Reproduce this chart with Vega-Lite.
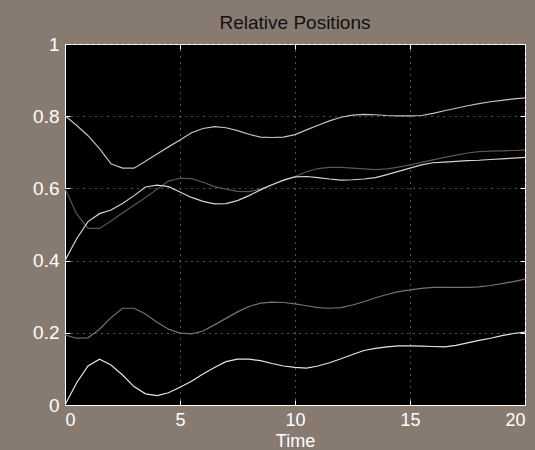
{
  "$schema": "https://vega.github.io/schema/vega-lite/v6.json",
  "autosize": {"type": "none"},
  "width": 460,
  "height": 361,
  "padding": {"left": 65, "top": 44, "right": 10, "bottom": 45},
  "background": "#877b71",
  "title": {"text": "Relative Positions", "font": "Liberation Sans", "fontSize": 19, "fontWeight": "normal", "color": "#111111", "anchor": "middle", "offset": 2},
  "config": {
    "view": {"fill": "#000000", "stroke": "#ffffff", "strokeWidth": 1},
    "axis": {"labelColor": "#ffffff", "labelFont": "Liberation Sans", "labelFontSize": 19, "domainColor": "#ffffff", "tickColor": "#ffffff", "gridColor": "#a0a0a0", "gridDash": [1, 5], "gridOpacity": 1, "titleColor": "#ffffff", "titleFont": "Liberation Sans", "titleFontSize": 18, "titleFontWeight": "normal"}
  },
  "datasets": {
    "pos": [
      {"t":0,"A":0,"B":0.194,"C":0.801,"D":0.600,"E":0.40},
      {"t":0.5,"A":0.061,"B":0.185,"C":0.775,"D":0.530,"E":0.46},
      {"t":1,"A":0.108,"B":0.186,"C":0.746,"D":0.489,"E":0.508},
      {"t":1.5,"A":0.127,"B":0.21,"C":0.71,"D":0.489,"E":0.53},
      {"t":2,"A":0.111,"B":0.242,"C":0.668,"D":0.51,"E":0.54},
      {"t":2.5,"A":0.083,"B":0.268,"C":0.656,"D":0.532,"E":0.558},
      {"t":3,"A":0.051,"B":0.268,"C":0.656,"D":0.553,"E":0.58},
      {"t":3.5,"A":0.031,"B":0.252,"C":0.675,"D":0.575,"E":0.604},
      {"t":4,"A":0.026,"B":0.229,"C":0.695,"D":0.598,"E":0.609},
      {"t":4.5,"A":0.034,"B":0.21,"C":0.715,"D":0.62,"E":0.605},
      {"t":5,"A":0.049,"B":0.199,"C":0.734,"D":0.628,"E":0.59},
      {"t":5.5,"A":0.066,"B":0.197,"C":0.754,"D":0.627,"E":0.575},
      {"t":6,"A":0.086,"B":0.205,"C":0.766,"D":0.617,"E":0.564},
      {"t":6.5,"A":0.104,"B":0.222,"C":0.771,"D":0.605,"E":0.557},
      {"t":7,"A":0.12,"B":0.24,"C":0.768,"D":0.598,"E":0.558},
      {"t":7.5,"A":0.127,"B":0.258,"C":0.76,"D":0.592,"E":0.566},
      {"t":8,"A":0.127,"B":0.273,"C":0.75,"D":0.591,"E":0.58},
      {"t":8.5,"A":0.123,"B":0.282,"C":0.742,"D":0.598,"E":0.596},
      {"t":9,"A":0.115,"B":0.285,"C":0.741,"D":0.61,"E":0.61},
      {"t":9.5,"A":0.108,"B":0.284,"C":0.742,"D":0.622,"E":0.623},
      {"t":10,"A":0.104,"B":0.28,"C":0.749,"D":0.633,"E":0.632},
      {"t":10.5,"A":0.102,"B":0.275,"C":0.762,"D":0.646,"E":0.633},
      {"t":11,"A":0.108,"B":0.27,"C":0.775,"D":0.655,"E":0.63},
      {"t":11.5,"A":0.117,"B":0.268,"C":0.787,"D":0.658,"E":0.626},
      {"t":12,"A":0.128,"B":0.27,"C":0.797,"D":0.658,"E":0.623},
      {"t":12.5,"A":0.14,"B":0.277,"C":0.803,"D":0.656,"E":0.624},
      {"t":13,"A":0.151,"B":0.286,"C":0.805,"D":0.654,"E":0.626},
      {"t":13.5,"A":0.157,"B":0.297,"C":0.804,"D":0.652,"E":0.63},
      {"t":14,"A":0.161,"B":0.306,"C":0.802,"D":0.654,"E":0.638},
      {"t":14.5,"A":0.164,"B":0.314,"C":0.801,"D":0.659,"E":0.647},
      {"t":15,"A":0.164,"B":0.319,"C":0.801,"D":0.665,"E":0.656},
      {"t":15.5,"A":0.163,"B":0.323,"C":0.802,"D":0.672,"E":0.665},
      {"t":16,"A":0.162,"B":0.326,"C":0.808,"D":0.679,"E":0.671},
      {"t":16.5,"A":0.161,"B":0.326,"C":0.815,"D":0.686,"E":0.673},
      {"t":17,"A":0.165,"B":0.326,"C":0.822,"D":0.692,"E":0.675},
      {"t":17.5,"A":0.172,"B":0.326,"C":0.829,"D":0.698,"E":0.677},
      {"t":18,"A":0.179,"B":0.327,"C":0.835,"D":0.702,"E":0.678},
      {"t":18.5,"A":0.185,"B":0.331,"C":0.84,"D":0.703,"E":0.68},
      {"t":19,"A":0.192,"B":0.336,"C":0.844,"D":0.704,"E":0.682},
      {"t":19.5,"A":0.198,"B":0.342,"C":0.848,"D":0.705,"E":0.684},
      {"t":20,"A":0.202,"B":0.349,"C":0.851,"D":0.706,"E":0.686}
    ]
  },
  "data": {"name": "pos"},
  "transform": [{"fold": ["B", "D", "C", "E", "A"], "as": ["s", "v"]}],
  "layer": [
    {
      "mark": {"type": "line", "strokeWidth": 1.2, "clip": true},
      "encoding": {
        "x": {"field": "t", "type": "quantitative", "scale": {"domain": [0, 20], "nice": false}, "axis": {"title": "Time", "values": [0, 5, 10, 15, 20], "tickSize": -5, "labelFontSize": 18, "labelPadding": 11, "titlePadding": 3, "grid": true}},
        "y": {"field": "v", "type": "quantitative", "scale": {"domain": [0, 1], "nice": false}, "axis": {"title": null, "values": [0, 0.2, 0.4, 0.6, 0.8, 1], "format": "~g", "tickSize": -5, "labelPadding": 11, "grid": true}},
        "color": {"field": "s", "type": "nominal", "legend": null, "scale": {"domain": ["A", "B", "C", "D", "E"], "range": ["#eae3dc", "#7d7165", "#cdc1b4", "#5e564e", "#ddd2c6"]}},
        "detail": {"field": "s"}
      }
    },
    {
      "mark": {"type": "line", "opacity": 0},
      "encoding": {
        "x": {"field": "t", "type": "quantitative", "axis": {"orient": "top", "title": null, "values": [0, 5, 10, 15, 20], "labels": false, "domain": false, "grid": false, "tickSize": -5}},
        "y": {"field": "v", "type": "quantitative", "axis": {"orient": "right", "title": null, "values": [0, 0.2, 0.4, 0.6, 0.8, 1], "labels": false, "domain": false, "grid": false, "tickSize": -5}},
        "detail": {"field": "s"}
      }
    }
  ],
  "resolve": {"axis": {"x": "independent", "y": "independent"}}
}
